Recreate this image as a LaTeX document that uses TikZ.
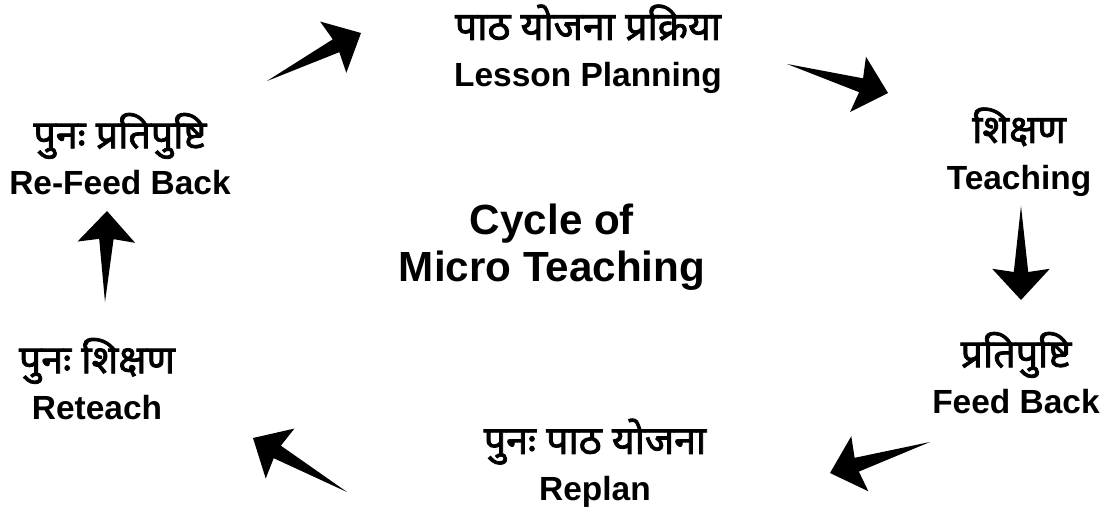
\documentclass[tikz,border=0pt]{standalone}
\usepackage{fontspec}
\setmainfont{Liberation Sans}
\newfontfamily\hindi[Script=Devanagari, FakeBold=2]{Noto Sans}
\usetikzlibrary{calc}

\tikzset{
	stage/.style={align=center, font=\bfseries\fontsize{23.8}{33}\selectfont},
	fatarrow/.style={to path={
		-- ($(\tikztotarget)!0.7cm!(\tikztostart)!0.18cm!90:(\tikztotarget)$)
		-- ($(\tikztotarget)!0.78cm!(\tikztostart)!0.72cm!90:(\tikztotarget)$)
		-- (\tikztotarget)
		-- ($(\tikztotarget)!0.78cm!(\tikztostart)!0.72cm!-90:(\tikztotarget)$)
		-- ($(\tikztotarget)!0.7cm!(\tikztostart)!0.18cm!-90:(\tikztotarget)$)
		-- cycle}}
}
\newcommand\hn[1]{{\hindi\fontsize{28}{33}\selectfont #1}}

\begin{document}
\begin{tikzpicture}[x=0.025cm, y=-0.025cm]
		\useasboundingbox (0,0) rectangle (1112,510);
		
		\node[stage] (plan) at (588,49) {\hn{पाठ योजना प्रक्रिया}\\Lesson Planning};
		\node[stage] (teach) at (1019,152) {\hn{शिक्षण}\\Teaching};
		\node[stage] (feed) at (1016,373) {\hn{प्रतिपुष्टि}\\Feed Back};
		\node[stage] (replan) at (595,463) {\hn{पुनः पाठ योजना}\\Replan};
		\node[stage] (reteach) at (97,379) {\hn{पुनः शिक्षण}\\Reteach};
		\node[stage] (refeed) at (120,154) {\hn{पुनः प्रतिपुष्टि}\\Re-Feed Back};
		\node[stage, font=\bfseries\fontsize{30}{33}\selectfont] (cycle) at (552,247) {Cycle of\\Micro Teaching};
		
		% Arrows
		\coordinate (t1) at (267,81);  \coordinate (h1) at (361,33);
		\coordinate (t2) at (787,64);  \coordinate (h2) at (888,93);
		\coordinate (t3) at (1021,206); \coordinate (h3) at (1021,300);
		\coordinate (t4) at (930,442); \coordinate (h4) at (830,473);
		\coordinate (t5) at (347,492); \coordinate (h5) at (253,438);
		\coordinate (t6) at (105,302); \coordinate (h6) at (107,211);
		
		\foreach \i in {1,...,6}
			\fill (t\i) to[fatarrow] (h\i);
\end{tikzpicture}
\end{document}
